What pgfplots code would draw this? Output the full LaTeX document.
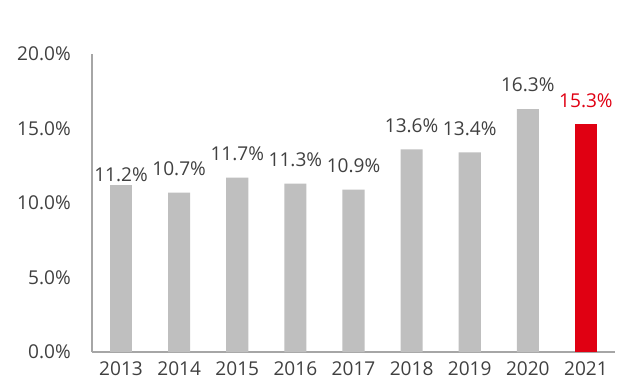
\documentclass[border=0pt]{standalone}
\usepackage{pgfplots}
\pgfplotsset{compat=1.18}
\usepackage{fontspec}
\setmainfont{Open Sans}
\definecolor{txt}{HTML}{404040}
\definecolor{bargray}{HTML}{BFBFBF}
\definecolor{barred}{HTML}{E00012}
\definecolor{axgray}{HTML}{A6A6A6}
\begin{document}
\fontsize{14.3}{16}\selectfont
\begin{tikzpicture}[x=0.75pt,y=0.75pt]
\path[use as bounding box] (-92,-38) rectangle (548,352);
\begin{axis}[
  at={(0,0)}, anchor=south west,
  scale only axis,
  width=392.25pt, height=223.5pt,
  xmin=-0.5, xmax=8.5,
  ymin=0, ymax=20,
  axis x line*=bottom, axis y line*=left,
  axis line style={axgray, line width=1pt},
  every outer x axis line/.append style={-}, every outer y axis line/.append style={-},
  xtick={0,...,8},
  xticklabels={2013,2014,2015,2016,2017,2018,2019,2020,2021},
  ytick={0,5,10,15,20},
  yticklabel={\pgfmathprintnumber[fixed,fixed zerofill,precision=1]{\tick}\%},
  /pgf/number format/assume math mode=true,
  major tick length=0pt,
  tick label style={text=txt, font=\fontsize{14.3}{16}\selectfont},
  xticklabel style={yshift=-2pt},
  yticklabel style={xshift=-11pt},
  ybar, bar width=0.38,
  nodes near coords={\pgfmathprintnumber[fixed,fixed zerofill,precision=1]{\pgfplotspointmeta}\%},
  nodes near coords style={font=\fontsize{14.3}{16}\selectfont, anchor=south, inner sep=2pt},
  clip=false,
]
\addplot[fill=bargray, draw=none, bar shift=0pt, nodes near coords style={text=txt}] coordinates {
 (0,11.2)};
\addplot[fill=bargray, draw=none, bar shift=0pt, nodes near coords style={text=txt, yshift=10.5pt}] coordinates {
 (1,10.7) (2,11.7) (3,11.3) (4,10.9) (5,13.6) (6,13.4) (7,16.3)};
\addplot[fill=barred, draw=none, bar shift=0pt, nodes near coords style={text=barred, yshift=10pt}] coordinates {
 (8,15.3)};
\end{axis}
\end{tikzpicture}
\end{document}
